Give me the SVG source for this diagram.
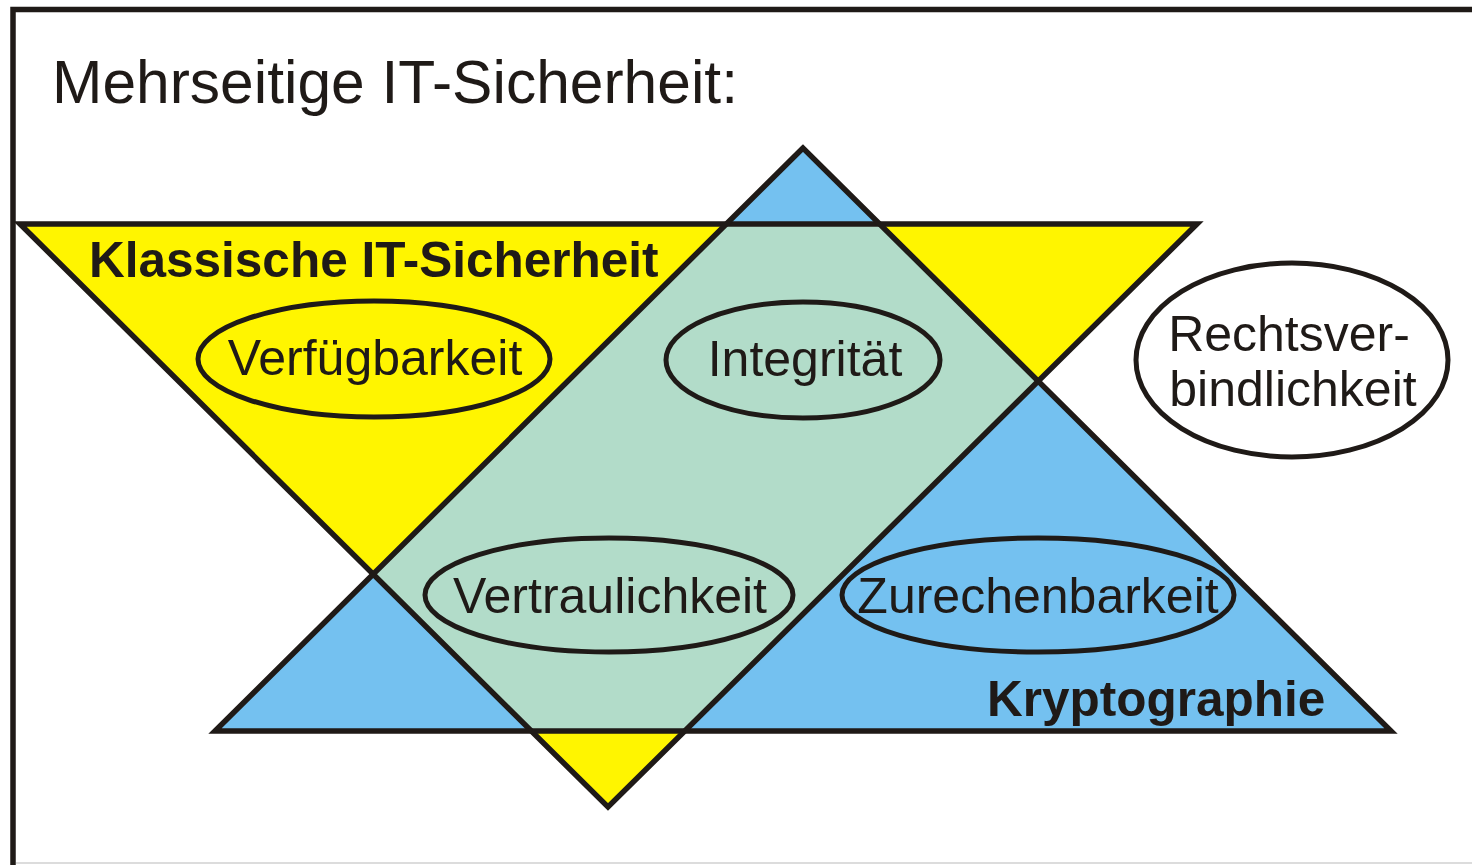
<svg xmlns="http://www.w3.org/2000/svg" width="1472" height="865" viewBox="0 0 1472 865">
<style>
.t{font-family:"Liberation Sans",Arial,sans-serif;fill:#1f1a17}
.b{font-weight:bold;font-size:49.5px}
.r{font-size:50px}
.ol{fill:none;stroke:#1f1a17;stroke-width:5.5;stroke-linejoin:miter}
.el{stroke:#1f1a17;stroke-width:5}
</style>
<defs>
<clipPath id="blueClip"><polygon points="803,148 215,731 1391,731"/></clipPath>
</defs>
<rect x="0" y="0" width="1472" height="865" fill="#ffffff"/>
<g id="frame">
<line x1="16" y1="863" x2="1472" y2="863" stroke="#dcdcdc" stroke-width="2"/>
<path d="M1472,9.5 H13 V865" fill="none" stroke="#1f1a17" stroke-width="5.5"/>
</g>
<g id="title"><text class="t" x="52" y="103" font-size="60.5">Mehrseitige IT-Sicherheit:</text></g>
<g id="triangles">
<polygon id="yellow" points="20,224 1197,224 608,807" fill="#fff500"/>
<polygon id="blue" points="803,148 215,731 1391,731" fill="#74c1f0"/>
<polygon id="overlap" points="20,224 1197,224 608,807" fill="#b2dcc9" clip-path="url(#blueClip)"/>
<polygon class="ol" points="20,224 1197,224 608,807"/>
<polygon class="ol" points="803,148 215,731 1391,731"/>
</g>
<g id="klassisch"><text class="t b" x="89" y="277">Klassische IT-Sicherheit</text></g>
<g id="krypto"><text class="t b" x="987" y="716">Kryptographie</text></g>
<g id="verfuegbarkeit">
<ellipse class="el" cx="374" cy="359" rx="176" ry="58" fill="#fff500"/>
<text class="t r" x="375" y="375" text-anchor="middle">Verfügbarkeit</text>
</g>
<g id="integritaet">
<ellipse class="el" cx="803" cy="360" rx="137" ry="58" fill="#b2dcc9"/>
<text class="t r" x="805" y="376" text-anchor="middle">Integrität</text>
</g>
<g id="rechtsverbindlichkeit">
<ellipse class="el" cx="1292" cy="360" rx="156" ry="97" fill="#ffffff"/>
<text class="t r" x="1289" y="351" text-anchor="middle">Rechtsver-</text>
<text class="t r" x="1293" y="406" text-anchor="middle">bindlichkeit</text>
</g>
<g id="vertraulichkeit">
<ellipse class="el" cx="609" cy="595" rx="184" ry="57" fill="#b2dcc9"/>
<text class="t r" x="610" y="613" text-anchor="middle">Vertraulichkeit</text>
</g>
<g id="zurechenbarkeit">
<ellipse class="el" cx="1038" cy="595" rx="196" ry="57" fill="#74c1f0"/>
<text class="t r" x="1038" y="613" text-anchor="middle">Zurechenbarkeit</text>
</g>
</svg>
